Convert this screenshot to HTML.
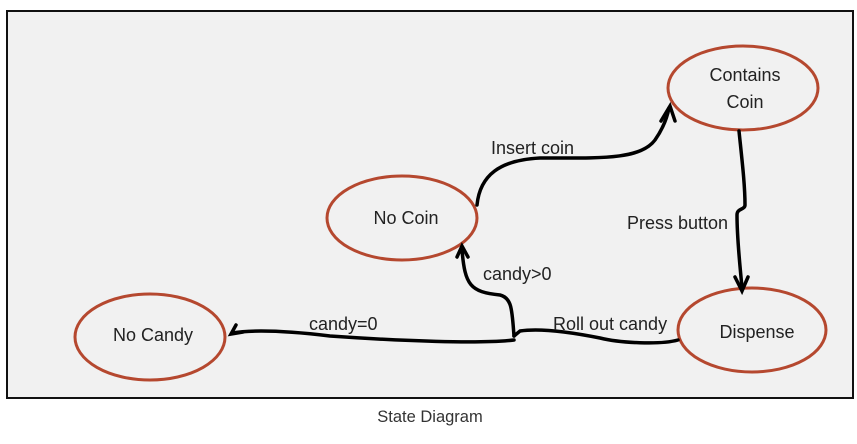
<!DOCTYPE html>
<html><head><style>
body{margin:0;width:857px;height:444px;background:#fff;overflow:hidden}
svg{position:absolute;left:0;top:0}
text{font-family:"Liberation Sans",sans-serif;fill:#222}
</style></head><body>
<svg width="857" height="444" viewBox="0 0 857 444">
<rect x="7" y="11" width="846" height="387" fill="#f1f1f1" stroke="#111" stroke-width="2"/>
<g fill="none" stroke="#b5482f" stroke-width="3">
<ellipse cx="150" cy="337" rx="75" ry="43"/>
<ellipse cx="402" cy="218" rx="75" ry="42"/>
<ellipse cx="743" cy="88" rx="75" ry="42"/>
<ellipse cx="752" cy="330" rx="74" ry="42"/>
</g>
<g fill="none" stroke="#000" stroke-width="3.5" stroke-linecap="round">
<path d="M477,205 C480,175 500,160 540,158 C600,158 640,160 655,140 C662,130 667,118 669,108"/>
<path d="M661,121 L670,106 L675,121"/>
<path d="M739,131 C742,160 745,185 745,205 C745,210 737,208 737,215 C737,240 740,265 742,288"/>
<path d="M735,277 L742,291 L748,277"/>
<path d="M678,340 C660,345 620,343 600,338 C570,332 540,328 520,331 L514,336"/>
<path d="M514,340 C480,344 400,341 330,336 C280,330 250,330 232,333"/>
<path d="M236,325 L231,334 L243,332"/>
<path d="M514,336 C512,310 512,298 500,295 C470,292 465,285 462,250"/>
<path d="M457,257 L462,246 L468,257"/>
</g>
<text x="406" y="224" font-size="18" text-anchor="middle">No Coin</text>
<text x="153" y="341" font-size="18" text-anchor="middle">No Candy</text>
<text x="745" y="81" font-size="18" text-anchor="middle">Contains</text>
<text x="745" y="108" font-size="18" text-anchor="middle">Coin</text>
<text x="757" y="338" font-size="18" text-anchor="middle">Dispense</text>
<text x="491" y="154" font-size="18">Insert coin</text>
<text x="627" y="229" font-size="18">Press button</text>
<text x="483" y="280" font-size="18">candy&gt;0</text>
<text x="553" y="330" font-size="18">Roll out candy</text>
<text x="309" y="330" font-size="18">candy=0</text>
<text x="430" y="422" font-size="16.5" text-anchor="middle" style="fill:#333">State Diagram</text>
</svg>
</body></html>
